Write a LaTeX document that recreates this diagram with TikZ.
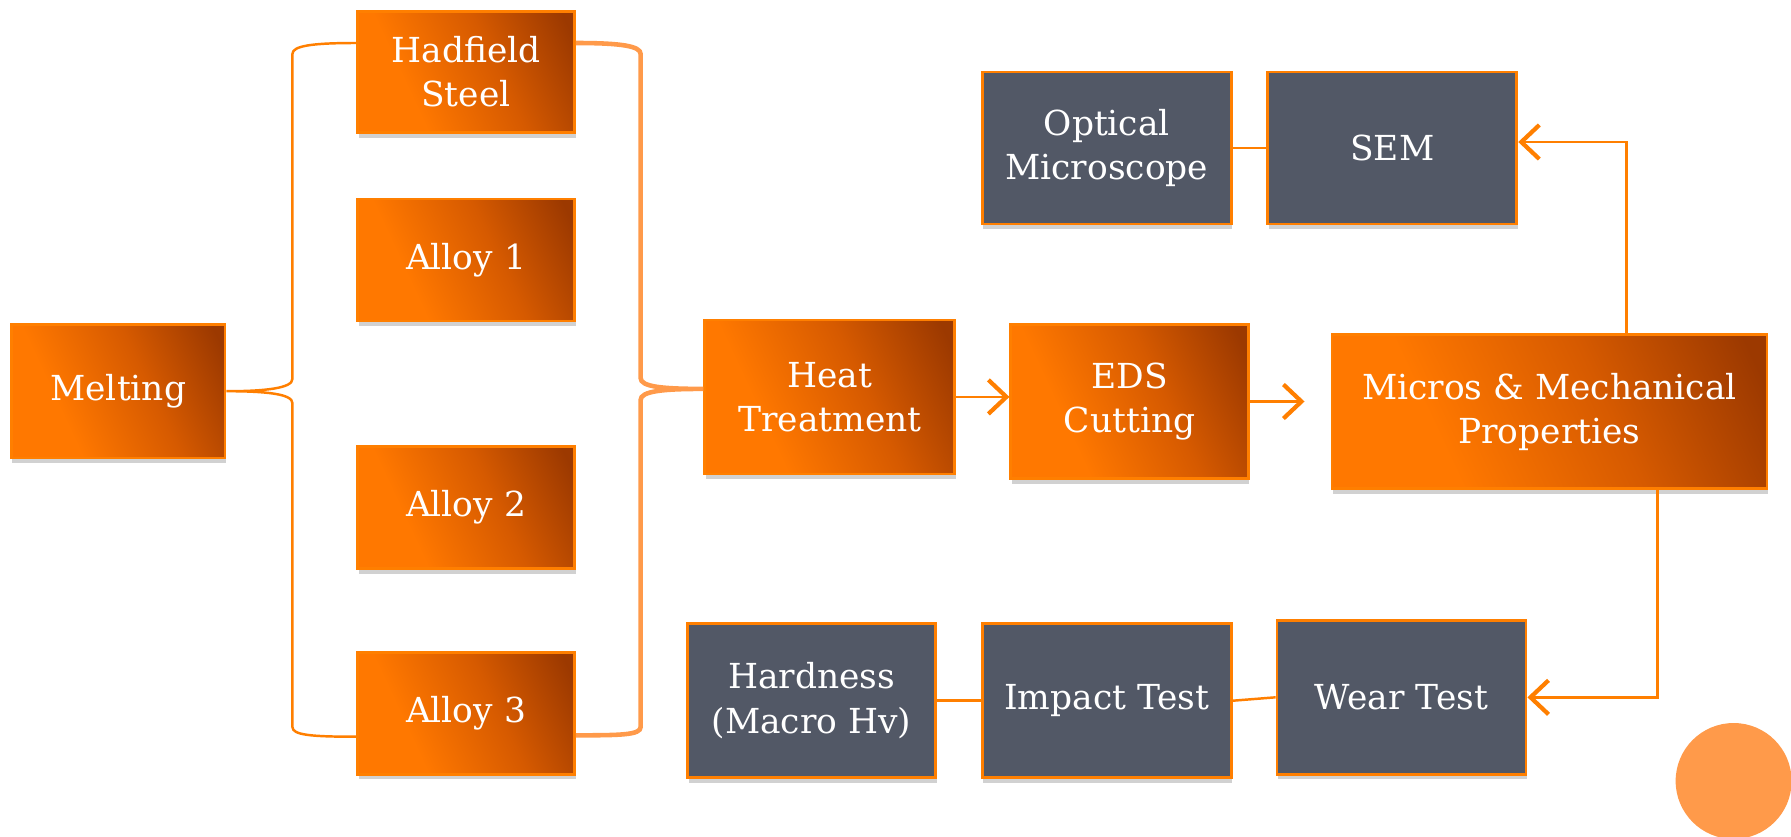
\documentclass[tikz,border=0pt]{standalone}
\usepackage{fontspec}
\setmainfont{DejaVu Serif}
\usetikzlibrary{arrows.meta,shadows}

\definecolor{obright}{HTML}{FF7800}
\definecolor{omid}{HTML}{D65A00}
\definecolor{odark}{HTML}{9C3900}
\definecolor{oline}{HTML}{FF7F00}
\definecolor{olight}{HTML}{FF9A4A}
\definecolor{slate}{HTML}{525866}
\pgfdeclarehorizontalshading{boxglow}{100bp}{color(0bp)=(obright); color(34bp)=(obright); color(58bp)=(omid); color(80bp)=(odark); color(100bp)=(odark)}

\begin{document}
\begin{tikzpicture}[
    % === ĐỊNH NGHĨA STYLE ===
    box/.style={draw=oline, line width=0.8pt, text=white, align=center, inner sep=0pt,
        font=\fontsize{9.8}{12.6}\selectfont,
        drop shadow={shadow xshift=0.01cm, shadow yshift=-0.05cm, opacity=0.18, fill=black}},
    orange box/.style={box, shade, shading=boxglow, shading angle=25},
    gray box/.style={box, fill=slate},
    link line/.style={oline, line width=0.7pt},
    arrow line/.style={oline, line width=0.8pt, -{Straight Barb[length=1.8mm, width=3.4mm, line width=1.2pt]}},
    brace line/.style={oline, line width=0.7pt},
    thick brace/.style={olight, line width=1.3pt},
]
    % === KHUNG HÌNH ===
    \path[use as bounding box, fill=white] (0,0) rectangle (17.91,8.36);
    \clip (0,0) rectangle (17.91,8.36);

    % === CÁC KHỐI CAM ===
    \node[orange box, minimum width=2.136cm, minimum height=1.336cm] (Me) at (1.182,4.448) {Melting};
    \node[orange box, minimum width=2.17cm, minimum height=1.21cm] (H) at (4.66,7.64) {Hadfield\\Steel};
    \node[orange box, minimum width=2.17cm, minimum height=1.22cm] (A1) at (4.66,5.761) {Alloy 1};
    \node[orange box, minimum width=2.17cm, minimum height=1.22cm] (A2) at (4.66,3.283) {Alloy 2};
    \node[orange box, minimum width=2.17cm, minimum height=1.22cm] (A3) at (4.66,1.227) {Alloy 3};
    \node[orange box, minimum width=2.5cm, minimum height=1.54cm] (HT) at (8.298,4.391) {Heat\\Treatment};
    \node[orange box, minimum width=2.375cm, minimum height=1.54cm] (EDS) at (11.296,4.345) {EDS\\Cutting};
    \node[orange box, minimum width=4.35cm, minimum height=1.54cm] (MM) at (15.494,4.242) {Micros \& Mechanical\\Properties};

    % === CÁC KHỐI XÁM ===
    \node[gray box, minimum width=2.49cm, minimum height=1.52cm] (OM) at (11.068,6.88) {Optical\\Microscope};
    \node[gray box, minimum width=2.49cm, minimum height=1.52cm] (SEM) at (13.923,6.88) {SEM};
    \node[gray box, minimum width=2.48cm, minimum height=1.54cm] (HV) at (8.115,1.353) {Hardness\\(Macro Hv)};
    \node[gray box, minimum width=2.49cm, minimum height=1.54cm] (IT) at (11.068,1.353) {Impact Test};
    \node[gray box, minimum width=2.49cm, minimum height=1.54cm] (WT) at (14.015,1.387) {Wear Test};

    % === NGOẶC NHỌN ===
    \draw[brace line] ([yshift=0.29cm]H.west) .. controls +(-0.45,0) and +(0,0.08) .. (2.924,7.82)
        -- (2.924,4.57) .. controls +(0,-0.09) and +(0.4,0) .. (Me.east)
        .. controls +(0.4,0) and +(0,0.09) .. (2.924,4.33)
        -- (2.924,1.09) .. controls +(0,-0.08) and +(-0.45,0) .. ([yshift=-0.234cm]A3.west);
    \draw[thick brace] ([yshift=0.29cm]H.east) .. controls +(0.45,0) and +(0,0.08) .. (6.406,7.82)
        -- (6.406,4.58) .. controls +(0,-0.09) and +(-0.4,0) .. ([yshift=0.08cm]HT.west)
        .. controls +(-0.4,0) and +(0,0.09) .. (6.406,4.36)
        -- (6.406,1.09) .. controls +(0,-0.08) and +(0.45,0) .. ([yshift=-0.22cm]A3.east);

    % === MŨI TÊN ===
    \draw[arrow line] (HT.east) -- (HT.east -| EDS.west);
    \draw[arrow line] (EDS.east) -- ([xshift=-0.26cm]EDS.east -| MM.west);
    \draw[arrow line] ([xshift=0.771cm]MM.north) |- ([yshift=0.06cm]SEM.east);
    \draw[arrow line] ([xshift=1.079cm]MM.south) |- (WT.east);

    % === ĐƯỜNG NỐI ===
    \draw[link line] (OM) -- (SEM);
    \draw[link line] (HV) -- (IT);
    \draw[link line] (IT.east) -- (WT.west);

    % === HÌNH TRÒN GÓC ===
    \fill[olight] (17.336,0.55) circle (0.58);

\end{tikzpicture}
\end{document}
